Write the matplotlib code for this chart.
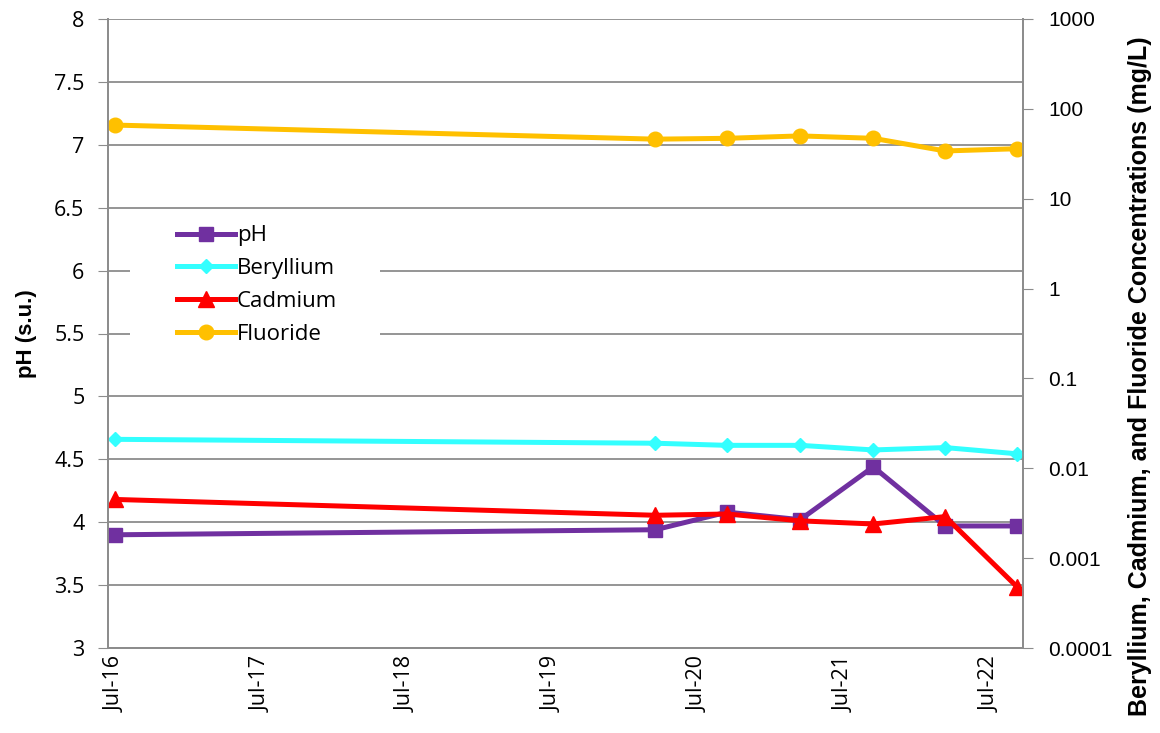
import numpy as np
import pandas as pd
import matplotlib
matplotlib.use("Agg")
import matplotlib.pyplot as plt
import matplotlib.dates as mdates
from matplotlib.patches import Rectangle
from matplotlib.ticker import FixedLocator, FixedFormatter

# sampling dates
dates = pd.to_datetime(["2016-07-01", "2020-03-15", "2020-09-11", "2021-03-13",
                        "2021-09-12", "2022-03-11", "2022-09-07"])

ph = [3.90, 3.94, 4.08, 4.02, 4.44, 3.97, 3.97]
beryllium = [0.021, 0.019, 0.018, 0.018, 0.016, 0.017, 0.0145]
cadmium = [0.0045, 0.0030, 0.0031, 0.0026, 0.0024, 0.0029, 0.00048]
fluoride = [66, 46, 47, 50, 47, 34, 36]

ph_ticks = [3, 3.5, 4, 4.5, 5, 5.5, 6, 6.5, 7, 7.5, 8]
conc_ticks = [0.0001, 0.001, 0.01, 0.1, 1, 10, 100, 1000]
conc_labels = ["0.0001", "0.001", "0.01", "0.1", "1", "10", "100", "1000"]
year_ticks = pd.to_datetime(["2016-07-01", "2017-07-01", "2018-07-01", "2019-07-01",
                             "2020-07-01", "2021-07-01", "2022-07-01"])

fig = plt.figure(figsize=(11.6, 7.33), dpi=100)
ax = fig.add_axes([108 / 1160, 1 - 648 / 733, 915 / 1160, 629 / 733])
ax2 = ax.twinx()

grid_c = "#8c8c8c"
tick_font = "Open Sans"
lw = 3.6

ph_line, = ax.plot(dates, ph, color="#7030a0", lw=lw, marker="s", ms=10.5, label="pH", zorder=3)
l_be, = ax2.plot(dates, beryllium, color="#33ffff", lw=lw, marker="D", ms=7, label="Beryllium")
l_cd, = ax2.plot(dates, cadmium, color="#ff0000", lw=lw, marker="^", ms=11, label="Cadmium")
l_f, = ax2.plot(dates, fluoride, color="#ffc000", lw=lw, marker="o", ms=10.5, label="Fluoride")

ax.set_ylim(3, 8)
ax.set_yticks(ph_ticks)
ax.set_yticklabels([f"{t:g}" for t in ph_ticks], fontsize=15.5, family=tick_font)
ax.yaxis.grid(True, color=grid_c, lw=1.3)
ax.set_axisbelow(True)

ax2.set_yscale("log")
ax2.set_ylim(0.0001, 1000)
ax2.yaxis.set_major_locator(FixedLocator(conc_ticks))
ax2.yaxis.set_major_formatter(FixedFormatter(conc_labels))
ax2.yaxis.set_minor_locator(FixedLocator([]))
for lab in ax2.get_yticklabels():
    lab.set_fontsize(15)
    lab.set_family("Liberation Sans")

ax.set_xlim(pd.Timestamp("2016-06-13"), pd.Timestamp("2022-09-22"))
ax.set_xticks(year_ticks)
ax.xaxis.set_major_formatter(mdates.DateFormatter("%b-%y"))
for lab in ax.get_xticklabels():
    lab.set_rotation(90)
    lab.set_fontsize(15.5)
    lab.set_family(tick_font)

ax.tick_params(axis="y", length=7, color=grid_c, pad=10)
ax.tick_params(axis="x", length=0, pad=6)
ax2.tick_params(axis="y", length=7, color=grid_c, pad=11)

for a in (ax, ax2):
    for s in a.spines.values():
        s.set_color(grid_c)
        s.set_linewidth(1.3)
    a.spines["top"].set_visible(False)

ax.set_ylabel("pH (s.u.)", fontsize=16, fontweight="bold", family="Liberation Sans")
ax.yaxis.set_label_coords(-0.078, 0.5)
ax2.set_ylabel("Beryllium, Cadmium, and Fluoride Concentrations (mg/L)", fontsize=18,
               fontweight="bold", family="Liberation Sans")
ax2.yaxis.set_label_coords(1.115, 0.432)

# white box behind the legend
ax2.add_patch(Rectangle((22 / 915, 0.455), 250 / 915, 0.23, transform=ax2.transAxes,
                        facecolor="white", edgecolor="none", zorder=4))
leg = ax2.legend([ph_line, l_be, l_cd, l_f], ["pH", "Beryllium", "Cadmium", "Fluoride"],
                 loc="upper left", bbox_to_anchor=(69 / 915, 0.672), frameon=False,
                 prop={"family": tick_font, "size": 16}, handlelength=2.6,
                 handletextpad=0.1, labelspacing=0.53, borderaxespad=0, borderpad=0)
leg.set_zorder(5)

fig.savefig("out.png", dpi=100, facecolor="white")
